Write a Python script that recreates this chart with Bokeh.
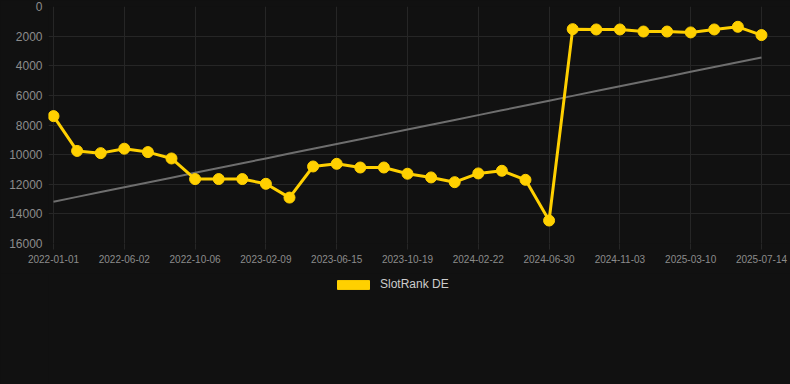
import numpy as np
from bokeh.plotting import figure
from bokeh.layouts import column
from bokeh.models import Range1d, FixedTicker, Legend, LegendItem, ColumnDataSource
from bokeh.embed import file_html
from bokeh.resources import INLINE

dates = [
    "2022-01-01", "2022-03-10", "2022-04-21", "2022-06-02", "2022-07-14", "2022-08-25",
    "2022-10-06", "2022-11-17", "2022-12-29", "2023-02-09", "2023-03-23", "2023-05-04",
    "2023-06-15", "2023-07-27", "2023-09-07", "2023-10-19", "2023-11-30", "2024-01-11",
    "2024-02-22", "2024-04-04", "2024-05-16", "2024-06-30", "2024-08-11", "2024-09-22",
    "2024-11-03", "2024-12-15", "2025-01-26", "2025-03-10", "2025-04-21", "2025-06-02",
    "2025-07-14",
]
rank_de = [
    7400, 9750, 9900, 9600, 9830, 10260,
    11650, 11650, 11650, 11970, 12900, 10800,
    10620, 10870, 10870, 11290, 11540, 11860,
    11270, 11090, 11700, 14450, 1530, 1550,
    1550, 1690, 1690, 1750, 1550, 1370,
    1930,
]
y_ticks = [0, 2000, 4000, 6000, 8000, 10000, 12000, 14000, 16000]
series_name = "SlotRank DE"

BG = "#111111"
GRID = "#262626"
LABEL = "#8c8c8c"
GOLD = "#FFD000"

idx = np.arange(len(dates))
coef = np.polyfit(idx, rank_de, 1)
trend = np.polyval(coef, idx)

src = ColumnDataSource(dict(x=idx, y=rank_de, t=trend, d=dates))

fig = figure(frame_width=742, frame_height=237, output_backend="svg", toolbar_location=None,
             x_range=Range1d(-0.212, 31.23), y_range=Range1d(16000, 0),
             min_border_left=48, min_border_right=0, min_border_top=6, min_border_bottom=30,
             background_fill_color=BG, border_fill_color=BG, outline_line_color=None)

fig.line("x", "t", source=src, line_color="#6e6e6e", line_width=2)
fig.line("x", "y", source=src, line_color=GOLD, line_width=3)
fig.scatter("x", "y", source=src, size=11, fill_color=GOLD, line_color=GOLD)

xt = list(range(0, len(dates), 3))
fig.xaxis.ticker = FixedTicker(ticks=xt)
fig.xaxis.major_label_overrides = {i: dates[i] for i in xt}
fig.yaxis.ticker = FixedTicker(ticks=y_ticks)

for ax in (fig.xaxis[0], fig.yaxis[0]):
    ax.axis_line_color = None
    ax.minor_tick_line_color = None
    ax.major_label_text_color = LABEL
    ax.major_label_text_font = "Arial"
fig.xaxis.major_tick_line_color = GRID
fig.xaxis.major_tick_out = 6
fig.xaxis.major_tick_in = 0
fig.xaxis.major_label_standoff = 5
fig.xaxis.major_label_text_font_size = "10px"
fig.yaxis.major_tick_line_color = None
fig.yaxis.major_tick_out = 0
fig.yaxis.major_tick_in = 0
fig.yaxis.major_label_standoff = 6
fig.yaxis.major_label_text_font_size = "12px"

fig.xgrid.ticker = FixedTicker(ticks=xt)
fig.xgrid.grid_line_color = GRID
fig.ygrid.grid_line_color = GRID

# legend strip below the chart
leg_fig = figure(frame_width=742, frame_height=111, output_backend="svg", toolbar_location=None,
                 x_range=Range1d(0, 742), y_range=Range1d(111, 0),
                 x_axis_type=None, y_axis_type=None,
                 min_border_left=48, min_border_right=0, min_border_top=0, min_border_bottom=0,
                 background_fill_color=BG, border_fill_color=BG,
                 outline_line_color=None)
leg_fig.xgrid.visible = False
leg_fig.ygrid.visible = False
swatch = leg_fig.quad(left=[-20], right=[-10], top=[-20], bottom=[-10],
                      fill_color=GOLD, line_color=GOLD)

legend = Legend(items=[LegendItem(label=series_name, renderers=[swatch])],
                location=(285, 93), orientation="horizontal",
                background_fill_alpha=0, border_line_color=None,
                glyph_width=40, glyph_height=11, label_height=11,
                label_standoff=7, padding=0, margin=0,
                label_text_color="#cccccc", label_text_font_size="12px",
                label_text_font="Arial")
leg_fig.add_layout(legend, "center")

p = column(fig, leg_fig, spacing=0, styles={"background-color": BG})

open("out.html", "w").write(file_html(p, INLINE))
